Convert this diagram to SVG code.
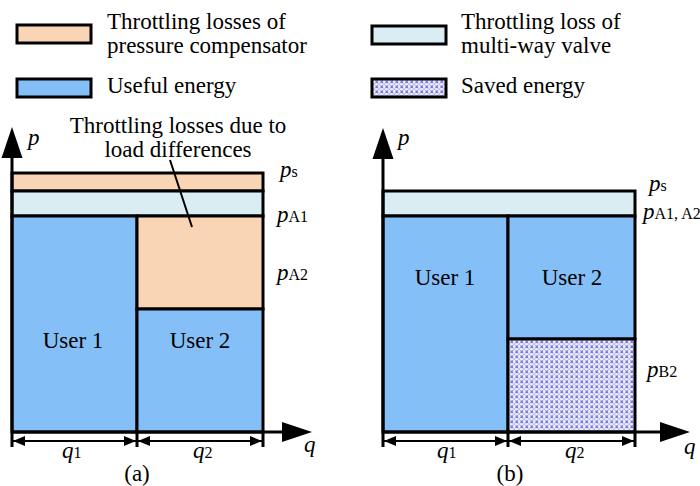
<svg xmlns="http://www.w3.org/2000/svg" width="700" height="486" viewBox="0 0 700 486">
<style>
text{font-family:"Liberation Serif","Times New Roman",serif;font-size:23px;fill:#000}
.it{font-style:italic}
.sub{font-size:16px;font-style:normal}
.box{stroke:#000;stroke-width:3}
.or{fill:#F9D5B6}
.bl{fill:#85BFF8}
.lb{fill:#DAEDF3}
.sv{fill:url(#dots)}
.ax{stroke:#000;stroke-width:3;fill:none}
.dim{stroke:#000;stroke-width:2;fill:none}
.lead{stroke:#000;stroke-width:2}
</style>
<defs>
<pattern id="dots" width="5" height="5" patternUnits="userSpaceOnUse">
<rect width="5" height="5" fill="#EEEEFA"/>
<path d="M0.5 0.5 L3 3 M3 0.5 L0.5 3" stroke="#7A7ADC" stroke-width="1.1"/>
<rect x="3.4" y="3.4" width="1.4" height="1.4" fill="#9C9CE6"/>
</pattern>
<marker id="ah" viewBox="0 0 12 10" refX="12" refY="5" markerWidth="12" markerHeight="10" markerUnits="userSpaceOnUse" orient="auto-start-reverse">
<path d="M0 0 L12 5 L0 10 Z" fill="#000"/>
</marker>
</defs>

<g id="legend">
<g id="leg-pc"><rect class="box or" x="17" y="25" width="74" height="18"/>
<text x="107" y="29">Throttling losses of</text><text x="107" y="53">pressure compensator</text></g>
<g id="leg-useful"><rect class="box bl" x="17" y="79" width="74" height="18"/>
<text x="107" y="93">Useful energy</text></g>
<g id="leg-mv"><rect class="box lb" x="372" y="26" width="74" height="18"/>
<text x="461" y="29">Throttling loss of</text><text x="461" y="53">multi-way valve</text></g>
<g id="leg-saved"><rect class="box sv" x="372" y="79" width="74" height="18"/>
<text x="461" y="93">Saved energy</text></g>
</g>

<g id="chart-a">
<g id="a-pc"><rect class="box or" x="12" y="173" width="251" height="18"/></g>
<g id="a-mv"><rect class="box lb" x="12" y="191" width="251" height="25"/></g>
<g id="a-user1"><rect class="box bl" x="12" y="216" width="125" height="216"/><text x="73" y="348" text-anchor="middle">User 1</text></g>
<g id="a-load"><rect class="box or" x="137" y="216" width="126" height="93"/></g>
<g id="a-user2"><rect class="box bl" x="137" y="309" width="126" height="123"/><text x="200" y="348" text-anchor="middle">User 2</text></g>
<text x="178" y="133" text-anchor="middle">Throttling losses due to</text>
<text x="178" y="157" text-anchor="middle">load differences</text>
<text x="280" y="177"><tspan class="it">p</tspan><tspan class="sub">s</tspan></text>
<text x="277" y="222"><tspan class="it">p</tspan><tspan class="sub">A1</tspan></text>
<text x="277" y="280"><tspan class="it">p</tspan><tspan class="sub">A2</tspan></text>
<text x="28" y="145" class="it">p</text>
<text x="304" y="452" class="it">q</text>
<text x="62" y="458"><tspan class="it">q</tspan><tspan class="sub">1</tspan></text>
<text x="193" y="458"><tspan class="it">q</tspan><tspan class="sub">2</tspan></text>
<text x="137" y="481" text-anchor="middle">(a)</text>
</g>

<g id="chart-b">
<g id="b-mv"><rect class="box lb" x="383" y="191" width="252" height="25"/></g>
<g id="b-user1"><rect class="box bl" x="383" y="216" width="125" height="216"/><text x="445" y="285" text-anchor="middle">User 1</text></g>
<g id="b-user2"><rect class="box bl" x="508" y="216" width="127" height="123"/><text x="572" y="285" text-anchor="middle">User 2</text></g>
<g id="b-saved"><rect class="box sv" x="508" y="339" width="127" height="93"/></g>
<text x="649" y="191"><tspan class="it">p</tspan><tspan class="sub">s</tspan></text>
<text x="643" y="219"><tspan class="it">p</tspan><tspan class="sub">A1, A2</tspan></text>
<text x="647" y="377"><tspan class="it">p</tspan><tspan class="sub">B2</tspan></text>
<text x="398" y="145" class="it">p</text>
<text x="684" y="454" class="it">q</text>
<text x="437" y="458"><tspan class="it">q</tspan><tspan class="sub">1</tspan></text>
<text x="565" y="458"><tspan class="it">q</tspan><tspan class="sub">2</tspan></text>
<text x="510" y="481" text-anchor="middle">(b)</text>
</g>

<g id="connectors">
<line class="lead" x1="170" y1="160" x2="192" y2="227"/>
<path class="ax" d="M12 447 V150 M12 432 H290"/>
<polygon points="12,127 1.5,158 22.5,158" fill="#000"/>
<polygon points="312,432 282,422 282,442" fill="#000"/>
<path class="ax" d="M137 432 V447 M263 432 V447"/>
<line class="dim" x1="13" y1="441" x2="136" y2="441" marker-start="url(#ah)" marker-end="url(#ah)"/>
<line class="dim" x1="138" y1="441" x2="262" y2="441" marker-start="url(#ah)" marker-end="url(#ah)"/>

<path class="ax" d="M383 447 V150 M383 432 H668"/>
<polygon points="383,128 372.5,159 393.5,159" fill="#000"/>
<polygon points="690,432 660,422 660,442" fill="#000"/>
<path class="ax" d="M508 432 V447 M635 432 V447"/>
<line class="dim" x1="384" y1="441" x2="507" y2="441" marker-start="url(#ah)" marker-end="url(#ah)"/>
<line class="dim" x1="509" y1="441" x2="634" y2="441" marker-start="url(#ah)" marker-end="url(#ah)"/>
</g>
</svg>
